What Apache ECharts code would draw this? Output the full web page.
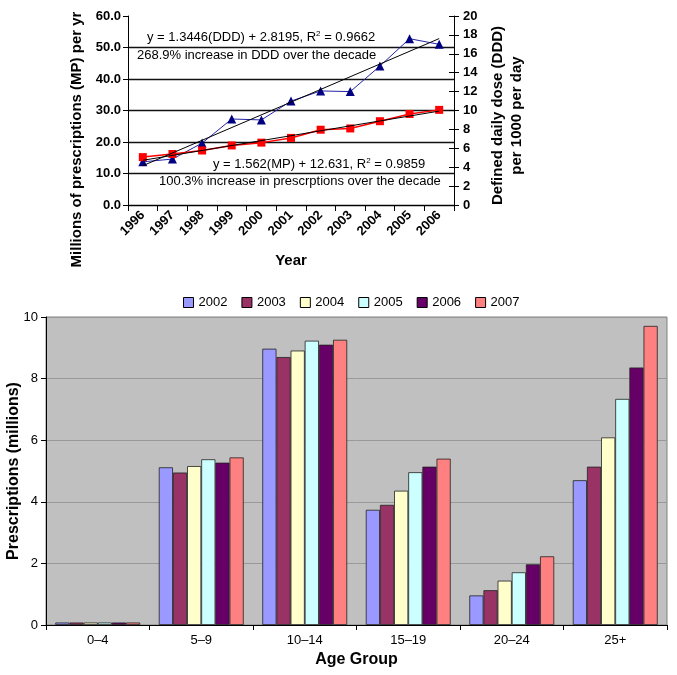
<!DOCTYPE html>
<html>
<head>
<meta charset="utf-8">
<script src="https://cdn.jsdelivr.net/npm/echarts@6/dist/echarts.min.js"></script>
<style>
html,body{margin:0;padding:0;background:#fff;}
#c{width:677px;height:675px;}
</style>
</head>
<body>
<div id="c"></div>
<script>
// ---- Top chart data ----
const years = ['1996','1997','1998','1999','2000','2001','2002','2003','2004','2005','2006'];
const mpValues = [15.2, 16.2, 17.3, 18.9, 19.8, 21.3, 23.9, 24.3, 26.6, 28.9, 30.2];
const dddValues = [4.57, 4.86, 6.55, 9.1, 9.0, 11.0, 12.07, 12.0, 14.7, 17.6, 17.0];
// trend line end values (from the printed regressions, at 1996 and 2006)
const mpTrendEnds = [14.19, 29.81];
const dddTrendEnds = [4.16, 17.61];
const leftTicks = [0, 60, 10];   // min, max, interval
const rightTicks = [0, 20, 2];

// ---- Bottom chart data ----
const ageGroups = ['0\u20134','5\u20139','10\u201314','15\u201319','20\u201324','25+'];
const barYears = ['2002','2003','2004','2005','2006','2007'];
const v2002 = [0.08, 5.12, 8.97, 3.74, 0.96, 4.70];
const v2003 = [0.08, 4.95, 8.70, 3.90, 1.13, 5.14];
const v2004 = [0.08, 5.16, 8.91, 4.36, 1.44, 6.09];
const v2005 = [0.08, 5.38, 9.23, 4.96, 1.71, 7.34];
const v2006 = [0.08, 5.27, 9.10, 5.14, 1.97, 8.36];
const v2007 = [0.08, 5.44, 9.26, 5.40, 2.23, 9.71];
const barValues = [v2002, v2003, v2004, v2005, v2006, v2007];
const barColors = ['#9999FF','#993366','#FFFFCC','#CCFFFF','#660066','#FF8080'];

const FONT = "'Liberation Sans', Arial, Helvetica, sans-serif";

function trendSeries(ends) {
  const d = years.map(() => null);
  d[0] = ends[0];
  d[d.length - 1] = ends[1];
  return d;
}

const chart = echarts.init(document.getElementById('c'), null, {renderer: 'canvas'});

const barSeries = barYears.map((y, i) => ({
  name: y,
  type: 'bar',
  xAxisIndex: 1,
  yAxisIndex: 3,
  data: barValues[i],
  barGap: '0%',
  barCategoryGap: '18%',
  itemStyle: {color: barColors[i], borderColor: '#222', borderWidth: 0.8},
  emphasis: {disabled: true}
}));

const option = {
  animation: false,
  textStyle: {fontFamily: FONT, color: '#000'},
  grid: [
    {left: 128, right: 223, top: 16, height: 189, outerBoundsMode: 'none', containLabel: false},
    {left: 46, right: 10, top: 317, bottom: 50, outerBoundsMode: 'none', containLabel: false,
     show: true, backgroundColor: '#c0c0c0', borderColor: '#808080', borderWidth: 1}
  ],
  legend: {
    data: barYears,
    top: 291,
    left: 178,
    itemWidth: 10,
    itemHeight: 10,
    itemGap: 14,
    icon: 'rect',
    textStyle: {fontSize: 13, fontFamily: FONT, color: '#000'},
    itemStyle: {borderColor: '#000', borderWidth: 1}
  },
  xAxis: [
    {
      gridIndex: 0, type: 'category', data: years, boundaryGap: true,
      axisLine: {lineStyle: {color: '#000', width: 1}},
      axisTick: {show: true, length: 6, lineStyle: {color: '#000'}},
      axisLabel: {rotate: 45, fontSize: 13, fontWeight: 'bold', color: '#000', margin: 8, interval: 0},
      name: 'Year', nameLocation: 'middle', nameGap: 48,
      nameTextStyle: {fontSize: 15, fontWeight: 'bold', color: '#000'}
    },
    {
      gridIndex: 1, type: 'category', data: ageGroups, boundaryGap: true,
      axisLine: {lineStyle: {color: '#000', width: 1}},
      axisTick: {show: true, length: 5, lineStyle: {color: '#000'}},
      axisLabel: {fontSize: 13, color: '#000', margin: 9, interval: 0},
      name: 'Age Group', nameLocation: 'middle', nameGap: 27,
      nameTextStyle: {fontSize: 16, fontWeight: 'bold', color: '#000'}
    }
  ],
  yAxis: [
    {
      gridIndex: 0, type: 'value', position: 'left',
      min: leftTicks[0], max: leftTicks[1], interval: leftTicks[2],
      axisLine: {show: true, lineStyle: {color: '#000'}},
      axisTick: {show: true, length: 5, lineStyle: {color: '#000'}},
      axisLabel: {fontSize: 13, fontWeight: 'bold', color: '#000', margin: 7, formatter: v => v.toFixed(1)},
      splitLine: {show: true, showMaxLine: false, lineStyle: {color: '#111', width: 1.4}},
      name: 'Millions of prescriptions (MP) per yr', nameLocation: 'middle', nameGap: 44, nameRotate: 90,
      nameTextStyle: {fontSize: 15, fontWeight: 'bold', color: '#000', padding: [0, 58, 0, 0]}
    },
    {
      gridIndex: 0, type: 'value', position: 'right',
      min: rightTicks[0], max: rightTicks[1], interval: rightTicks[2],
      axisLine: {show: true, lineStyle: {color: '#000'}},
      axisTick: {show: true, length: 5, lineStyle: {color: '#000'}},
      axisLabel: {fontSize: 13, fontWeight: 'bold', color: '#000', margin: 9},
      splitLine: {show: false},
      name: 'Defined daily dose (DDD)\nper 1000 per day', nameLocation: 'middle', nameGap: 34, nameRotate: 90,
      nameTextStyle: {fontSize: 15, fontWeight: 'bold', color: '#000', lineHeight: 19, align: 'center', padding: [0, 10, 0, 0]}
    },
    {
      gridIndex: 0, type: 'value', position: 'right',
      min: rightTicks[0], max: rightTicks[1], interval: rightTicks[2],
      axisLine: {show: false},
      axisTick: {show: true, inside: true, length: 5, lineStyle: {color: '#000'}},
      axisLabel: {show: false},
      splitLine: {show: false}
    },
    {
      gridIndex: 1, type: 'value', min: 0, max: 10, interval: 2,
      axisLine: {show: true, lineStyle: {color: '#000'}},
      axisTick: {show: true, length: 5, lineStyle: {color: '#000'}},
      axisLabel: {fontSize: 13, color: '#000', margin: 8},
      splitLine: {show: true, lineStyle: {color: '#999', width: 1}},
      name: 'Prescriptions (millions)', nameLocation: 'middle', nameGap: 24, nameRotate: 90,
      nameMoveOverlap: false,
      nameTextStyle: {fontSize: 16, fontWeight: 'bold', color: '#000'}
    }
  ],
  series: [
    {
      name: 'DDD', type: 'line', xAxisIndex: 0, yAxisIndex: 1, data: dddValues,
      symbol: 'triangle', symbolSize: 9,
      lineStyle: {color: '#2323a8', width: 1},
      itemStyle: {color: '#000080'}, emphasis: {disabled: true}, z: 3
    },
    {
      name: 'MP', type: 'line', xAxisIndex: 0, yAxisIndex: 0, data: mpValues,
      symbol: 'rect', symbolSize: 8,
      lineStyle: {color: '#ff0000', width: 1.5},
      itemStyle: {color: '#ff0000'}, emphasis: {disabled: true}, z: 3
    },
    {
      name: 'DDD trend', type: 'line', xAxisIndex: 0, yAxisIndex: 1, data: trendSeries(dddTrendEnds),
      connectNulls: true, showSymbol: false, symbol: 'none',
      lineStyle: {color: '#000', width: 1}, emphasis: {disabled: true}, z: 4
    },
    {
      name: 'MP trend', type: 'line', xAxisIndex: 0, yAxisIndex: 0, data: trendSeries(mpTrendEnds),
      connectNulls: true, showSymbol: false, symbol: 'none',
      lineStyle: {color: '#000', width: 1}, emphasis: {disabled: true}, z: 4
    }
  ].concat(barSeries),
  graphic: [
    {type: 'text', left: 147, top: 30, z: 10, style: {
      text: '{t|y = 1.3446(DDD) + 2.8195, R}{s|2}{t| = 0.9662}',
      rich: {t: {fontSize: 13, fontFamily: FONT, fill: '#000'}, s: {fontSize: 8, fontFamily: FONT, fill: '#000', verticalAlign: 'top', padding: [0, 0, 6, 0]}},
      font: '13px ' + FONT, fill: '#000'}},
    {type: 'text', left: 137, top: 49, z: 10, style: {
      text: '268.9% increase in DDD over the decade', font: '13px ' + FONT, fill: '#000'}},
    {type: 'text', left: 213, top: 157, z: 10, style: {
      text: '{t|y = 1.562(MP) + 12.631, R}{s|2}{t| = 0.9859}',
      rich: {t: {fontSize: 13, fontFamily: FONT, fill: '#000'}, s: {fontSize: 8, fontFamily: FONT, fill: '#000', verticalAlign: 'top', padding: [0, 0, 6, 0]}},
      font: '13px ' + FONT, fill: '#000'}},
    {type: 'text', left: 159, top: 175, z: 10, style: {
      text: '100.3% increase in prescrptions over the decade', font: '13px ' + FONT, fill: '#000'}}
  ]
};

chart.setOption(option);
</script>
</body>
</html>
